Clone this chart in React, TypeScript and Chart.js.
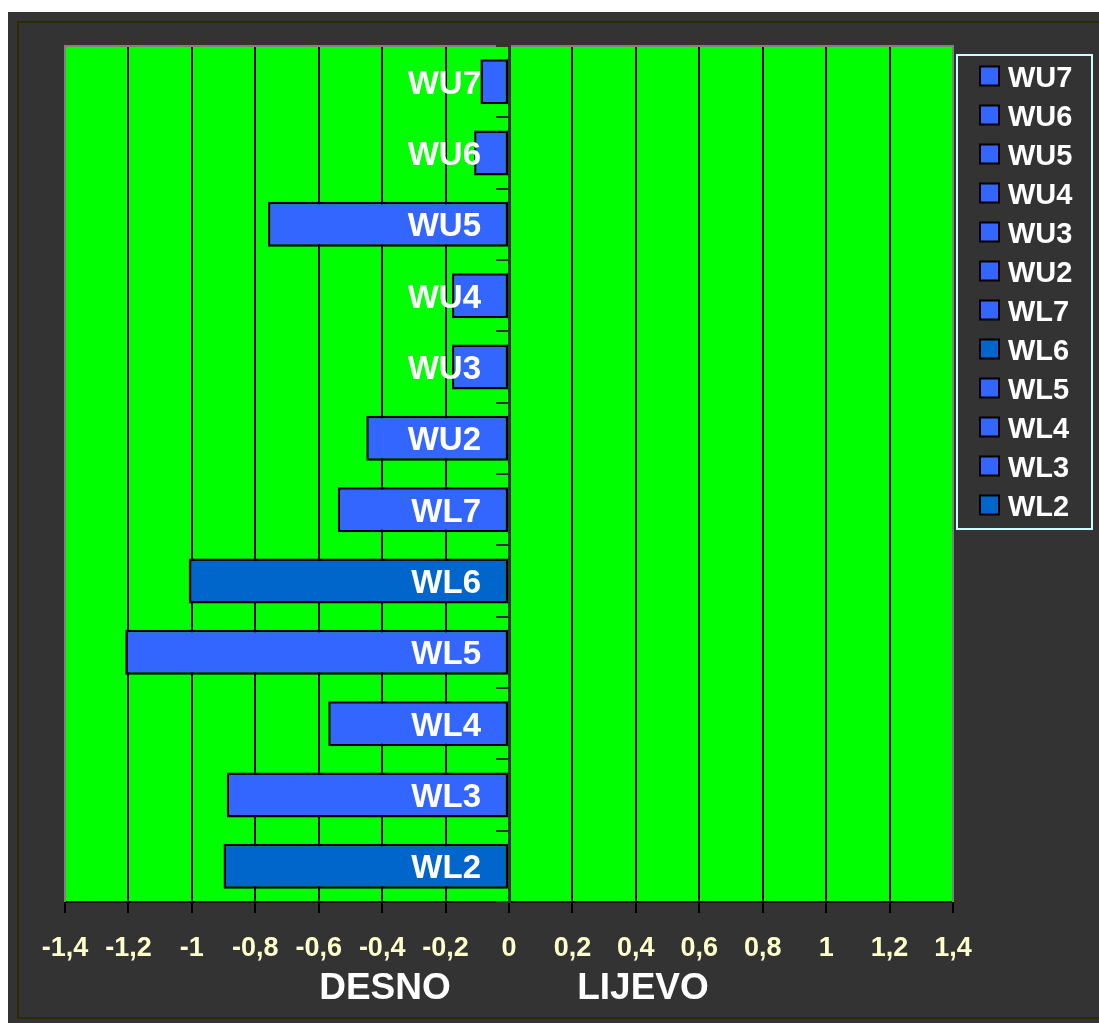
import React, { useEffect, useRef } from "react";
import { Chart, registerables } from "chart.js";

Chart.register(...registerables);

const categories = ["WU7", "WU6", "WU5", "WU4", "WU3", "WU2", "WL7", "WL6", "WL5", "WL4", "WL3", "WL2"];
const values = [-0.09, -0.11, -0.76, -0.18, -0.18, -0.45, -0.54, -1.01, -1.21, -0.57, -0.89, -0.9];
const barColors = [
  "#3366ff", "#3366ff", "#3366ff", "#3366ff", "#3366ff", "#3366ff",
  "#3366ff", "#0066cc", "#3366ff", "#3366ff", "#3366ff", "#0066cc",
];
const axisMin = -1.4;
const axisMax = 1.4;
const axisStep = 0.2;
const sideTitles = ["DESNO", "LIJEVO"];

const FONT = "'Liberation Sans', Arial, sans-serif";

const decorPlugin = {
  id: "decor",
  beforeDraw(chart: any) {
    const { ctx, width, height, chartArea } = chart;
    ctx.save();
    ctx.fillStyle = "#333333";
    ctx.fillRect(0, 0, width, height);
    // inner olive frame
    ctx.strokeStyle = "#2e2a00";
    ctx.lineWidth = 2;
    ctx.beginPath();
    ctx.moveTo(width + 5, 10);
    ctx.lineTo(10, 10);
    ctx.lineTo(10, 1006);
    ctx.lineTo(width + 5, 1006);
    ctx.stroke();
    // plot area
    ctx.fillStyle = "#00ff00";
    ctx.fillRect(chartArea.left, chartArea.top, chartArea.right - chartArea.left, chartArea.bottom - chartArea.top);
    ctx.restore();
  },
  beforeDatasetsDraw(chart: any) {
    const { ctx, chartArea } = chart;
    ctx.save();
    ctx.strokeStyle = "#808080";
    ctx.lineWidth = 2;
    ctx.beginPath();
    ctx.moveTo(chartArea.left, chartArea.bottom);
    ctx.lineTo(chartArea.left, chartArea.top);
    ctx.lineTo(chartArea.right, chartArea.top);
    ctx.lineTo(chartArea.right, chartArea.bottom);
    ctx.stroke();
    ctx.restore();
  },
  afterDraw(chart: any) {
    const { ctx } = chart;
    const xs = chart.scales.x;
    const ys = chart.scales.y;
    const zeroX = xs.getPixelForValue(0);
    ctx.save();
    // category labels inside plot
    ctx.fillStyle = "#ffffff";
    ctx.font = `bold 33px ${FONT}`;
    ctx.textAlign = "right";
    ctx.textBaseline = "alphabetic";
    categories.forEach((c, i) => {
      const y = ys.getPixelForValue(i);
      ctx.fillText(c, zeroX - 28, y + 12);
    });
    // side titles
    ctx.font = `bold 37px ${FONT}`;
    ctx.textAlign = "center";
    ctx.fillText(sideTitles[0], zeroX - 124, 987);
    ctx.fillText(sideTitles[1], zeroX + 134, 987);
    // legend
    const lx = 949, ly = 43, lw = 135, lh = 474;
    ctx.fillStyle = "#333333";
    ctx.fillRect(lx, ly, lw, lh);
    ctx.strokeStyle = "#ccffff";
    ctx.lineWidth = 2;
    ctx.strokeRect(lx, ly, lw, lh);
    ctx.font = `bold 29px ${FONT}`;
    ctx.textAlign = "left";
    categories.forEach((c, i) => {
      const cy = 64 + 39 * i;
      ctx.fillStyle = barColors[i];
      ctx.fillRect(972, cy - 9.5, 19, 19);
      ctx.strokeStyle = "#000000";
      ctx.lineWidth = 2;
      ctx.strokeRect(972, cy - 9.5, 19, 19);
      ctx.fillStyle = "#ffffff";
      ctx.fillText(c, 1000, cy + 10.5);
    });
    ctx.restore();
  },
};

export default function App() {
  const ref = useRef<HTMLCanvasElement | null>(null);
  useEffect(() => {
    if (!ref.current) return;
    const chart = new Chart(ref.current, {
      type: "bar",
      data: {
        labels: categories,
        datasets: [
          {
            data: values,
            backgroundColor: barColors,
            borderColor: "#000000",
            borderWidth: 2.5,
            borderSkipped: false,
            barPercentage: 0.63,
            categoryPercentage: 1,
          },
        ],
      },
      options: {
        indexAxis: "y",
        animation: false,
        responsive: false,
        devicePixelRatio: 1,
        layout: { padding: { left: 57, right: 146, top: 34, bottom: 0 } },
        plugins: { legend: { display: false }, tooltip: { enabled: false } },
        scales: {
          x: {
            type: "linear",
            position: "bottom",
            min: axisMin,
            max: axisMax,
            afterFit: (scale: any) => {
              scale.height = 121;
            },
            ticks: {
              stepSize: axisStep,
              autoSkip: false,
              maxRotation: 0,
              color: "#ffffcc",
              padding: 19,
              font: { family: FONT, size: 27, weight: "bold" },
              callback: (v: any) => String(Math.round(Number(v) * 10) / 10).replace(".", ","),
            },
            grid: {
              color: (c: any) =>
                c.tick && (Math.abs(c.tick.value - axisMin) < 1e-6 || Math.abs(c.tick.value - axisMax) < 1e-6)
                  ? "#808080"
                  : "#000000",
              tickColor: "#000000",
              lineWidth: 2,
              tickLength: 11,
            },
            border: { color: "#000000", width: 2 },
          },
          y: {
            type: "category",
            position: { x: 0 } as any,
            offset: true,
            ticks: { display: false },
            grid: {
              offset: true,
              drawOnChartArea: false,
              color: "#333333",
              lineWidth: 2,
              tickLength: 12,
              z: 1,
            },
            border: { color: "#333333", width: 3, z: 1 },
          },
        },
      },
      plugins: [decorPlugin],
    } as any);
    return () => chart.destroy();
  }, []);
  return (
    <div style={{ position: "absolute", left: 8, top: 12, width: 1091, height: 1011 }}>
      <canvas ref={ref} width={1091} height={1011} style={{ display: "block" }} />
    </div>
  );
}
